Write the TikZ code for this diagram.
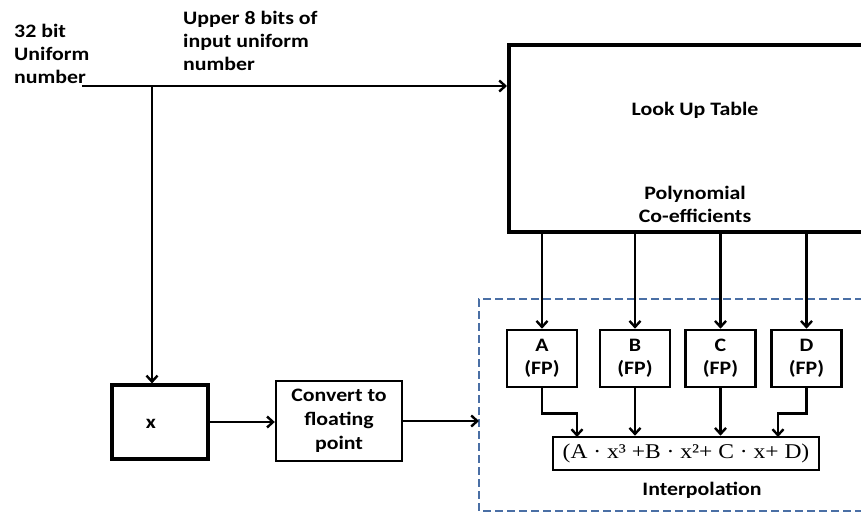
\documentclass[tikz,border=0pt]{standalone}
\usepackage{fontspec}
\setmainfont{Carlito}[FakeStretch=1.15]
\newfontfamily\serifx{Liberation Serif}[FakeStretch=1.12]
\usetikzlibrary{arrows.meta}
\definecolor{dashblue}{HTML}{4A6FA5}
\begin{document}
\begin{tikzpicture}[x=1pt,y=-1pt,
  lbl/.style={font=\fontsize{19}{23}\selectfont\bfseries, align=center, inner sep=0pt},
  fp/.style={draw, line width=2.6pt, minimum width=70pt, minimum height=57pt, font=\fontsize{19}{23}\selectfont\bfseries, align=center, inner sep=0pt},
  arr/.style={-{Straight Barb[length=6pt,width=11pt]}, line width=2.4pt},
  frame/.style={dashblue, line width=1.6pt, dash pattern=on 8pt off 4pt}]
\useasboundingbox (0,0) rectangle (861,514);
% texts
\node[lbl, align=left, anchor=west] (in) at (14,54) {32 bit\\Uniform\\number};
\node[lbl, align=left, anchor=west] (up) at (183,41) {Upper 8 bits of\\input uniform\\number};
% look up table
\node[draw, line width=4pt, minimum width=370pt, minimum height=187pt] (lut) at (694,138.5) {};
\node[lbl] (lutt) at (695,110) {Look Up Table};
\node[lbl] (lutp) at (695,204) {Polynomial\\Co-efficients};
% input line
\coordinate (src) at (82,86);
\coordinate (br) at (152,86);
\draw[arr] (src) -- (lut.west |- src);
% x box
\node[draw, line width=3.2pt, minimum width=96pt, minimum height=74pt] (xb) at (160,422) {};
\node[lbl] (xl) at (151,424) {x};
\draw[arr] (br) -- (br |- xb.north);
% convert
\node[draw, line width=2.4pt, minimum width=126pt, minimum height=80pt, font=\fontsize{19}{24}\selectfont\bfseries, align=center, inner sep=0pt] (conv) at (339,421) {Convert to\\floating\\point};
\draw[arr] (xb.east) -- (xb.east -| conv.west);
% dashed frame
\draw[frame] (875,299) -- (479,299) -- (479,511) -- (875,511);
\coordinate (fr) at (479,421);
\draw[arr] (conv.east) -- (conv.east -| fr);
% coefficient boxes
\node[fp] (A) at (542,358.5) {A\\(FP)};
\node[fp] (B) at (635,358.5) {B\\(FP)};
\node[fp] (C) at (720.5,358.5) {C\\(FP)};
\node[fp] (D) at (806.5,358.5) {D\\(FP)};
\foreach \n in {A,B,C,D} \draw[arr] (\n |- lut.south) -- (\n.north);
% polynomial
\node[draw, line width=2.6pt, minimum width=266pt, minimum height=33pt, inner sep=0pt, font=\serifx\fontsize{21}{22}\selectfont] (pb) at (686,453.5) {(A · x³ +B · x²+ C · x+ D)};
\coordinate (pa) at (577,437);
\coordinate (pd) at (778,437);
\draw[arr] (A.south) -- ++(0,25) -| (pa);
\draw[arr] (B.south) -- (B.south |- pb.north);
\draw[arr] (C.south) -- (C.south |- pb.north);
\draw[arr] (D.south) -- ++(0,25) -| (pd);
\node[lbl] (interp) at (702,490) {Interpolation};
\end{tikzpicture}
\end{document}
